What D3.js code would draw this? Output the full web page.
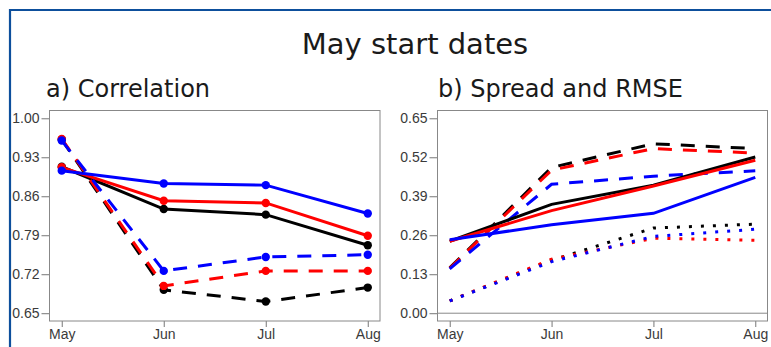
<!DOCTYPE html>
<html>
<head>
<meta charset="utf-8">
<script src="https://cdn.jsdelivr.net/npm/d3@7"></script>
<style>
  html, body { margin: 0; padding: 0; background: #fff; }
  svg { display: block; }
</style>
</head>
<body>
<script>
// Lead months of the forecasts
const months = ["May", "Jun", "Jul", "Aug"];

// Axis tick values
const corrTicks = [0.65, 0.72, 0.79, 0.86, 0.93, 1.00];
const errTicks = [0.00, 0.13, 0.26, 0.39, 0.52, 0.65];

// a) Correlation — solid and dashed series per system
const corrBlackSolid = [0.913, 0.837, 0.827, 0.772];
const corrRedSolid   = [0.912, 0.852, 0.848, 0.789];
const corrBlueSolid  = [0.906, 0.883, 0.880, 0.829];
const corrBlackDash  = [0.962, 0.692, 0.671, 0.696];
const corrRedDash    = [0.963, 0.699, 0.726, 0.726];
const corrBlueDash   = [0.960, 0.726, 0.751, 0.755];

// b) Spread and RMSE — solid, dashed and dotted series per system
const errBlackSolid = [0.240, 0.363, 0.427, 0.521];
const errRedSolid   = [0.240, 0.342, 0.424, 0.510];
const errBlueSolid  = [0.245, 0.295, 0.333, 0.453];
const errBlackDash  = [0.151, 0.486, 0.565, 0.549];
const errRedDash    = [0.150, 0.477, 0.549, 0.534];
const errBlueDash   = [0.148, 0.430, 0.457, 0.475];
const errBlackDot   = [0.041, 0.176, 0.284, 0.297];
const errRedDot     = [0.041, 0.180, 0.250, 0.243];
const errBlueDot    = [0.041, 0.172, 0.256, 0.280];

const W = 771, H = 347;
const svg = d3.select("body").append("svg").attr("width", W).attr("height", H);

// Frame around the figure
svg.append("path")
  .attr("d", `M10,${H} L10,10 L${W},10`)
  .attr("fill", "none").attr("stroke", "#0d4f9c").attr("stroke-width", 2.2);

// Main heading
svg.append("text")
  .attr("x", 415).attr("y", 54)
  .attr("text-anchor", "middle")
  .attr("font-family", "DejaVu Sans").attr("font-size", 29)
  .attr("fill", "#1a1a1a")
  .text("May start dates");

const dashStyles = { solid: null, dash: "14,11", dot: "3,9" };

function panel(opts) {
  const { left, right, top, bottom, ticks, domain, title, titleX, series, points, zeroLine } = opts;
  const g = svg.append("g");

  // R-style 4% padding around the data range
  const xPad = (months.length - 1) * 0.04;
  const x = d3.scaleLinear().domain([-xPad, months.length - 1 + xPad]).range([left, right]);
  const ySpan = domain[1] - domain[0];
  const y = d3.scaleLinear().domain([domain[0] - ySpan * 0.04, domain[1] + ySpan * 0.04]).range([bottom, top]);

  g.append("text")
    .attr("x", titleX).attr("y", 97)
    .attr("font-family", "DejaVu Sans").attr("font-size", 24)
    .attr("fill", "#1a1a1a")
    .text(title);

  if (zeroLine) {
    g.append("line")
      .attr("x1", left).attr("x2", right)
      .attr("y1", y(0)).attr("y2", y(0))
      .attr("stroke", "#888").attr("stroke-width", 1);
  }

  // Axes
  const yAxis = d3.axisLeft(y).tickValues(ticks).tickFormat(d3.format(".2f")).tickSize(8).tickPadding(2);
  const xAxis = d3.axisBottom(x).tickValues(d3.range(months.length)).tickFormat(i => months[i]).tickSize(6).tickPadding(2);

  const ya = g.append("g").attr("transform", `translate(${left},0)`).call(yAxis);
  const xa = g.append("g").attr("transform", `translate(0,${bottom})`).call(xAxis);
  [ya, xa].forEach(a => {
    a.select(".domain").remove();
    a.selectAll(".tick line").attr("stroke", "#777");
    a.selectAll(".tick text")
      .attr("font-family", "Liberation Sans, Arial, sans-serif")
      .attr("font-size", 14).attr("fill", "#3a3a3a");
  });

  // Plot box
  g.append("rect")
    .attr("x", left).attr("y", top)
    .attr("width", right - left).attr("height", bottom - top)
    .attr("fill", "none").attr("stroke", "#888").attr("stroke-width", 1);

  const line = d3.line().x((d, i) => x(i)).y(d => y(d));

  series.forEach(s => {
    g.append("path")
      .datum(s.values)
      .attr("d", line)
      .attr("fill", "none")
      .attr("stroke", s.color)
      .attr("stroke-width", 3)
      .attr("stroke-dasharray", dashStyles[s.style]);
    if (points) {
      g.selectAll(null).data(s.values).enter().append("circle")
        .attr("cx", (d, i) => x(i)).attr("cy", d => y(d))
        .attr("r", 4.2).attr("fill", s.color);
    }
  });
}

panel({
  left: 49.5, right: 380, top: 110.5, bottom: 321,
  ticks: corrTicks, domain: [0.65, 1.00],
  title: "a) Correlation", titleX: 46,
  points: true, zeroLine: false,
  series: [
    { values: corrBlackSolid, color: "#000", style: "solid" },
    { values: corrRedSolid,   color: "#f00", style: "solid" },
    { values: corrBlueSolid,  color: "#00f", style: "solid" },
    { values: corrBlackDash,  color: "#000", style: "dash" },
    { values: corrRedDash,    color: "#f00", style: "dash" },
    { values: corrBlueDash,   color: "#00f", style: "dash" }
  ]
});

panel({
  left: 437.5, right: 767.5, top: 110.5, bottom: 321,
  ticks: errTicks, domain: [0.00, 0.65],
  title: "b) Spread and RMSE", titleX: 438,
  points: false, zeroLine: true,
  series: [
    { values: errBlackDot,   color: "#000", style: "dot" },
    { values: errRedDot,     color: "#f00", style: "dot" },
    { values: errBlueDot,    color: "#00f", style: "dot" },
    { values: errBlackDash,  color: "#000", style: "dash" },
    { values: errRedDash,    color: "#f00", style: "dash" },
    { values: errBlueDash,   color: "#00f", style: "dash" },
    { values: errBlackSolid, color: "#000", style: "solid" },
    { values: errRedSolid,   color: "#f00", style: "solid" },
    { values: errBlueSolid,  color: "#00f", style: "solid" }
  ]
});
</script>
</body>
</html>
